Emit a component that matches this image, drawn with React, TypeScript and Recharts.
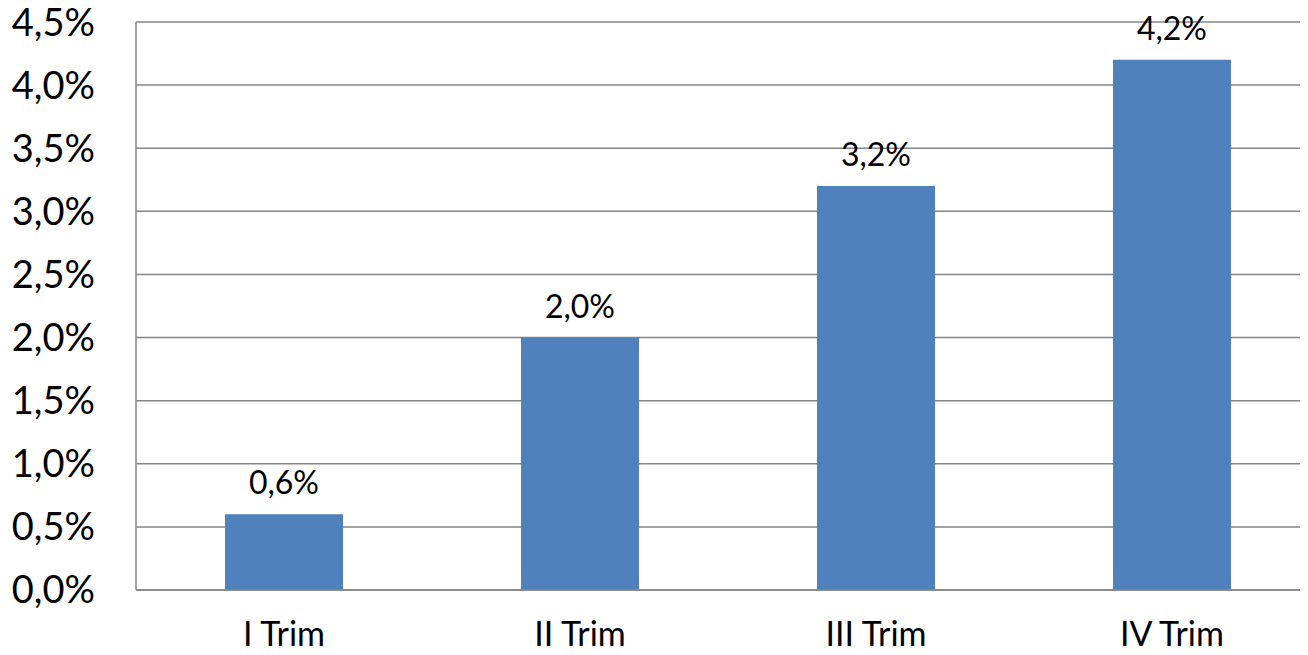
import React from 'react';
import { BarChart, Bar, XAxis, YAxis, CartesianGrid, LabelList } from 'recharts';

const categories = ['I Trim', 'II Trim', 'III Trim', 'IV Trim'];
const values = [0.6, 2.0, 3.2, 4.2];
const yTicks = [0, 0.5, 1, 1.5, 2, 2.5, 3, 3.5, 4, 4.5];

const data = categories.map((c, i) => ({ name: c, value: values[i] }));

const fmt = (v: number) => v.toFixed(1).replace('.', ',') + '%';
const FONT = 'Lato, "Open Sans", sans-serif';

export default function App() {
  return (
    <div style={{ margin: -8, width: 1308, height: 655, background: '#fff', overflow: 'hidden' }}>
      <BarChart
        width={1330}
        height={655}
        data={data}
        margin={{ top: 22, right: 10, bottom: 0, left: 0 }}
      >
        <CartesianGrid vertical={false} stroke="#868686" strokeWidth={1.5} />
        <XAxis
          dataKey="name"
          height={65}
          tickLine={false}
          tickSize={0}
          tickMargin={32}
          axisLine={{ stroke: '#868686', strokeWidth: 1.5 }}
          tick={{ fill: '#000', fontSize: 34, fontFamily: FONT }}
          interval={0}
        />
        <YAxis
          width={136}
          domain={[0, 4.5]}
          ticks={yTicks}
          tickFormatter={fmt}
          tickLine={false}
          tickSize={0}
          tickMargin={41}
          axisLine={{ stroke: '#868686', strokeWidth: 1.5 }}
          tick={{ fill: '#000', fontSize: 38, fontFamily: FONT }}
          interval={0}
        />
        <Bar dataKey="value" fill="#4F81BD" barSize={118} isAnimationActive={false}>
          <LabelList
            dataKey="value"
            position="top"
            offset={20}
            formatter={(v: any) => fmt(Number(v))}
            style={{ fill: '#000', fontSize: 32, fontFamily: FONT }}
          />
        </Bar>
      </BarChart>
    </div>
  );
}
